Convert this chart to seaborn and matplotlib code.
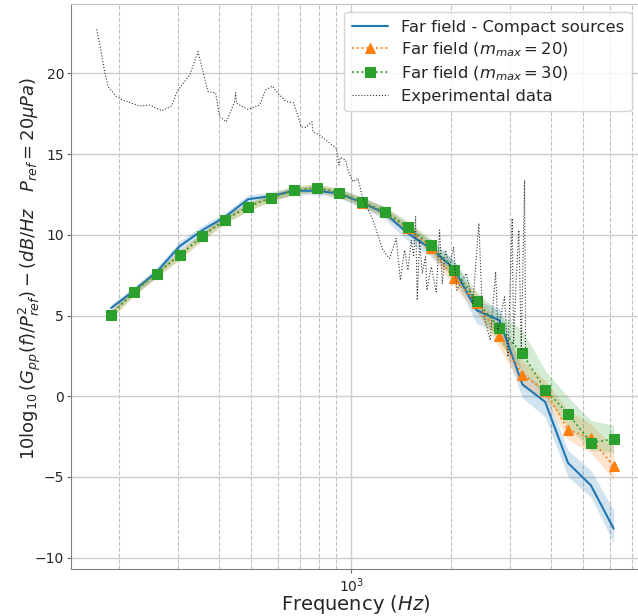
import numpy as np
import matplotlib
matplotlib.use("Agg")
import matplotlib.pyplot as plt
import seaborn as sns

# Frekvence modelových bodů (Hz)
freq = [189, 221, 259, 304, 356, 417, 489, 573, 671, 786, 921, 1080, 1265,
        1483, 1737, 2036, 2386, 2795, 3276, 3838, 4498, 5272, 6175]

# Far field - Compact sources
compact = [5.47, 6.53, 7.70, 9.30, 10.29, 11.12, 12.21, 12.40, 12.73, 12.73, 12.56, 11.98,
           11.33, 10.08, 9.15, 7.92, 5.33, 4.71, 0.74, -0.35, -4.13, -5.52, -8.20]
compact_lo = [5.22, 6.28, 7.42, 9.00, 10.00, 10.85, 11.95, 12.15, 12.48, 12.48, 12.28, 11.65,
              10.95, 9.60, 8.65, 7.35, 4.50, 3.90, -0.10, -1.28, -5.00, -6.24, -9.10]
compact_hi = [5.72, 6.78, 7.98, 9.60, 10.58, 11.39, 12.47, 12.65, 12.98, 12.98, 12.84, 12.31,
              11.71, 10.56, 9.65, 8.49, 5.95, 5.45, 1.60, 0.37, -3.35, -4.59, -7.07]

# Far field (m_max = 20)
m20 = [5.06, 6.47, 7.60, 8.74, 9.92, 10.95, 11.74, 12.30, 12.75, 12.90, 12.60, 12.00,
       11.40, 10.40, 9.20, 7.30, 5.80, 3.72, 1.34, 0.35, -2.07, -2.60, -4.34]
m20_lo = [4.80, 6.22, 7.35, 8.48, 9.66, 10.70, 11.50, 12.06, 12.50, 12.65, 12.35, 11.72,
          11.10, 10.05, 8.80, 6.80, 5.20, 3.00, 0.58, -0.25, -2.70, -3.50, -5.20]
m20_hi = [5.32, 6.72, 7.85, 9.00, 10.18, 11.20, 11.98, 12.54, 13.00, 13.15, 12.85, 12.28,
          11.70, 10.75, 9.60, 7.80, 6.40, 4.40, 2.23, 1.00, -0.87, -1.70, -3.14]

# Far field (m_max = 30)
m30 = [5.06, 6.47, 7.60, 8.74, 9.92, 10.95, 11.74, 12.30, 12.75, 12.93, 12.60, 12.04,
       11.43, 10.46, 9.36, 7.85, 5.91, 4.20, 2.65, 0.41, -1.07, -2.87, -2.65]
m30_lo = [4.82, 6.23, 7.36, 8.50, 9.68, 10.71, 11.50, 12.06, 12.51, 12.69, 12.34, 11.75,
          11.12, 10.10, 8.95, 7.35, 5.30, 3.30, 1.60, -0.04, -1.90, -3.35, -3.50]
m30_hi = [5.30, 6.71, 7.84, 8.98, 10.16, 11.19, 11.98, 12.54, 12.99, 13.17, 12.86, 12.33,
          11.74, 10.82, 9.77, 8.35, 6.50, 5.10, 4.10, 1.60, -0.04, -1.50, -1.80]

# Experimentální data
exp_freq = [171, 175, 181, 185, 196, 205, 230, 247, 268, 287, 300, 326, 345, 370, 390,
            401, 420, 445, 448, 451, 488, 529, 552, 578, 601, 637, 670, 707, 729, 761,
            766, 803, 901, 918, 927, 961, 977, 1011, 1047, 1079, 1162, 1245, 1304, 1366,
            1405, 1447, 1481, 1516, 1541, 1562, 1580, 1606, 1636, 1674, 1689, 1742, 1803,
            1845, 1880, 1923, 1978, 2033, 2080, 2221, 2324, 2423, 2481, 2623, 2721, 2765,
            2896, 2963, 3054, 3083, 3141, 3198, 3251, 3327, 3350]
exp_val = [22.73, 21.66, 20.00, 19.18, 18.56, 18.35, 17.98, 18.04, 17.69, 17.98, 18.97,
           19.90, 21.35, 18.87, 18.80, 17.32, 17.00, 18.25, 18.80, 18.15, 17.77, 18.04,
           18.97, 19.22, 18.77, 18.25, 18.18, 16.70, 16.66, 17.00, 16.39, 16.18, 15.36,
           14.32, 14.80, 14.63, 14.00, 13.29, 13.50, 12.36, 10.91, 9.05, 8.54, 9.78, 7.19,
           9.05, 7.81, 9.67, 8.64, 11.12, 5.95, 9.67, 7.61, 8.64, 6.57, 8.02, 6.47, 10.29,
           6.99, 9.05, 8.02, 9.26, 6.57, 7.61, 5.75, 10.71, 5.33, 3.47, 7.71, 4.09, 6.16,
           2.44, 11.02, 3.27, 7.40, 10.29, 2.85, 13.39, 2.85]

sns.set_style("whitegrid")
plt.rcParams['font.family'] = ['DejaVu Sans']

fig = plt.figure(figsize=(6.38, 6.16), dpi=100)
ax = fig.add_axes([0.1113, 0.0763, 0.8915, 0.9172])

c_blue, c_orange, c_green = "#1f77b4", "#ff7f0e", "#2ca02c"

# Pásy nejistoty
ax.fill_between(freq, compact_lo, compact_hi, color=c_blue, alpha=0.2, lw=0)
ax.fill_between(freq, m20_lo, m20_hi, color=c_orange, alpha=0.2, lw=0)
ax.fill_between(freq, m30_lo, m30_hi, color=c_green, alpha=0.2, lw=0)

sns.lineplot(x=freq, y=compact, ax=ax, color=c_blue, lw=1.5,
             label="Far field - Compact sources")
sns.lineplot(x=freq, y=m20, ax=ax, color=c_orange, lw=1.3, linestyle=":",
             marker="^", markersize=7, markeredgecolor=c_orange,
             label=r"Far field ($m_{max} = 20$)")
sns.lineplot(x=freq, y=m30, ax=ax, color=c_green, lw=1.3, linestyle=":",
             marker="s", markersize=7, markeredgecolor=c_green,
             label=r"Far field ($m_{max} = 30$)")
sns.lineplot(x=exp_freq, y=exp_val, ax=ax, color="0.2", lw=0.8, linestyle=":",
             label="Experimental data")

ax.set_xscale("log")
ax.set_xlim(143, 7400)
ax.set_ylim(-10.7, 24.3)
ax.set_yticks([-10, -5, 0, 5, 10, 15, 20])

ax.grid(which="major", color="#cccccc", lw=1.0, ls="-")
ax.grid(which="minor", axis="x", color="#c0c0c0", lw=0.8, ls="--")
ax.tick_params(axis="both", which="major", labelsize=10, length=3, color="0.4",
               bottom=True, left=True, pad=2)
ax.tick_params(axis="x", which="minor", length=0)
for side in ["left", "bottom"]:
    ax.spines[side].set_color("0.5")
ax.spines["top"].set_color("0.75")

ax.set_xlabel(r"Frequency ($Hz$)", fontsize=14)
ax.xaxis.set_label_coords(0.5, -0.042)
ax.set_ylabel(r"$10\log_{10}(G_{pp}(f)/P_{ref}^2) - (dB/Hz \quad P_{ref} = 20\mu Pa)$",
              fontsize=13)
ax.yaxis.set_label_coords(-0.05, 0.532)
ax.legend(loc="upper right", fontsize=11.8, frameon=True, labelspacing=0.35,
          borderpad=0.45, handlelength=2.2)

fig.savefig("out.png", dpi=100)
